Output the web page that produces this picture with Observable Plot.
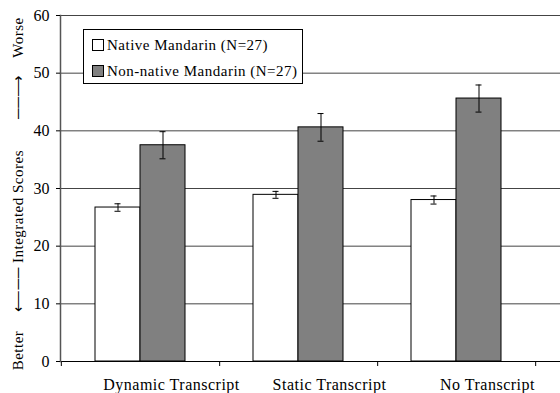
<!DOCTYPE html>
<html>
<head>
<meta charset="utf-8">
<script src="https://cdn.jsdelivr.net/npm/d3@7"></script>
<script src="https://cdn.jsdelivr.net/npm/@observablehq/plot@0.6"></script>
<style>
  html, body { margin: 0; padding: 0; background: #fff; }
  #wrap { position: relative; width: 560px; height: 393px; overflow: hidden; }
  #wrap svg, #wrap svg text { font-family: "Liberation Serif", "Times New Roman", serif !important; }
  #wrap svg g[aria-label="x-axis tick label"] text { letter-spacing: 0.5px; }
  #wrap svg g.ylab text { letter-spacing: 0.5px; }
  #legend {
    position: absolute; left: 83px; top: 29px; width: 218px; height: 53px;
    background: #fff; border: 1px solid #000;
    font-family: "Liberation Serif", "Times New Roman", serif; font-size: 15px; letter-spacing: 0.5px; color: #000;
  }
  .item { position: absolute; left: 8px; display: flex; align-items: center; height: 16px; white-space: nowrap; }
  .sw { width: 10px; height: 10px; border: 1px solid #000; margin-right: 3px; }
</style>
</head>
<body>
<div id="wrap"></div>
<script>
const categories = ["Dynamic Transcript", "Static Transcript", "No Transcript"];
const groups = ["Native Mandarin (N=27)", "Non-native Mandarin (N=27)"];
const groupColors = ["#ffffff", "#808080"];
const nativeMeans = [26.7, 28.9, 28.0];
const nativeErr = [0.65, 0.6, 0.7];
const nonNativeMeans = [37.5, 40.6, 45.6];
const nonNativeErr = [2.35, 2.4, 2.35];
const yTicks = [0, 10, 20, 30, 40, 50, 60];
const yLabelParts = ["Better", "\u27F5\u2500\u2500", "Integrated Scores", "\u2500\u2500\u27F6", "Worse"];
const yLabelOffsets = [162, 101, 18, -92, -151];

const native = categories.map((c, i) => ({cat: c, mean: nativeMeans[i], err: nativeErr[i]}));
const nonNative = categories.map((c, i) => ({cat: c, mean: nonNativeMeans[i], err: nonNativeErr[i]}));

const xLeft = 60, xRight = 535;
const step = (xRight - xLeft) / categories.length;
const band = 90, half = band / 2;
const font = "Liberation Serif";

const chart = Plot.plot({
  width: 560,
  height: 393,
  marginLeft: xLeft,
  marginRight: 0,
  marginTop: 15,
  marginBottom: 32,
  style: {fontFamily: font, fontSize: "14px", color: "#000", background: "#fff"},
  x: {domain: categories, range: [xLeft, xRight], paddingInner: 1 - band / step, paddingOuter: (1 - band / step) / 2, label: null},
  y: {domain: [0, 60], label: null},
  marks: [
    Plot.ruleY(yTicks.filter(d => d > 0), {y: d => d, stroke: "#444", strokeWidth: 1}),
    Plot.barY(native, {x: "cat", y: "mean", fill: groupColors[0], stroke: "#000", insetRight: half}),
    Plot.barY(nonNative, {x: "cat", y: "mean", fill: groupColors[1], stroke: "#000", insetLeft: half}),
    Plot.ruleX(native, {x: "cat", y1: d => d.mean - d.err, y2: d => d.mean + d.err, dx: -half / 2, stroke: "#000"}),
    Plot.ruleX(nonNative, {x: "cat", y1: d => d.mean - d.err, y2: d => d.mean + d.err, dx: half / 2, stroke: "#000"}),
    Plot.tickY(native, {x: "cat", y: d => d.mean - d.err, insetLeft: half / 2 - 3, insetRight: band - half / 2 - 3, stroke: "#000"}),
    Plot.tickY(native, {x: "cat", y: d => d.mean + d.err, insetLeft: half / 2 - 3, insetRight: band - half / 2 - 3, stroke: "#000"}),
    Plot.tickY(nonNative, {x: "cat", y: d => d.mean - d.err, insetLeft: half + half / 2 - 3, insetRight: half / 2 - 3, stroke: "#000"}),
    Plot.tickY(nonNative, {x: "cat", y: d => d.mean + d.err, insetLeft: half + half / 2 - 3, insetRight: half / 2 - 3, stroke: "#000"}),
    Plot.ruleY([0], {stroke: "#000"}),
    Plot.ruleX(categories, {x: d => d, y1: 0, y2: 0, dx: step / 2, insetBottom: -5, stroke: "#000"}),
    Plot.ruleX([categories[0]], {x: d => d, y1: 0, y2: 0, dx: -step / 2, insetBottom: -5, stroke: "#000"}),
    Plot.frame({anchor: "left", stroke: "#555", strokeWidth: 1.5}),
    Plot.axisY({ticks: yTicks, tickSize: 4, tickPadding: 7, fontSize: 16, tickFormat: d => d, label: null}),
    Plot.axisX({tickSize: 0, tickPadding: 17, fontSize: 16, dx: 31, label: null}),
    ...yLabelParts.map((t, i) => Plot.text([t], {text: d => d, frameAnchor: "left", textAnchor: "middle", rotate: -90, dx: -42, dy: yLabelOffsets[i], fontSize: 15, fill: "#000", className: "ylab"}))
  ]
});

const wrap = document.getElementById("wrap");
wrap.appendChild(chart);
const legend = document.createElement("div");
legend.id = "legend";
groups.forEach((g, i) => {
  const item = document.createElement("div");
  item.className = "item";
  item.style.top = (7 + i * 26) + "px";
  const sw = document.createElement("span");
  sw.className = "sw";
  sw.style.background = groupColors[i];
  const t = document.createElement("span");
  t.textContent = g;
  item.appendChild(sw);
  item.appendChild(t);
  legend.appendChild(item);
});
wrap.appendChild(legend);
</script>
</body>
</html>
